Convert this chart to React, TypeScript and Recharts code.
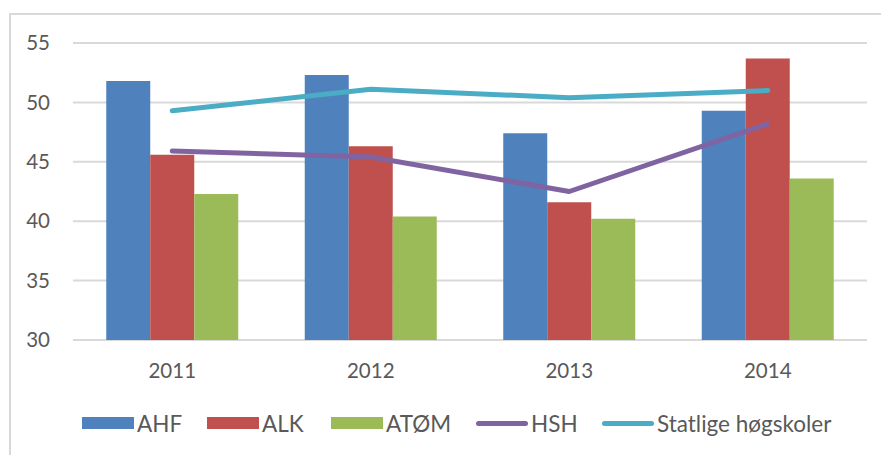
import * as React from "react";
import {
  Bar,
  CartesianGrid,
  ComposedChart,
  Legend,
  Line,
  XAxis,
  YAxis,
} from "recharts";

const years = ["2011", "2012", "2013", "2014"];
const ahf = [51.8, 52.3, 47.4, 49.3];
const alk = [45.6, 46.3, 41.6, 53.7];
const atom = [42.3, 40.4, 40.2, 43.6];
const hsh = [45.9, 45.4, 42.5, 48.2];
const statlige = [49.3, 51.1, 50.4, 51.0];
const yTicks = [30, 35, 40, 45, 50, 55];

const data = years.map((year, i) => ({
  year,
  AHF: ahf[i],
  ALK: alk[i],
  ATOM: atom[i],
  HSH: hsh[i],
  Statlige: statlige[i],
}));

const FONT = "Lato, 'Open Sans', sans-serif";
const TEXT = "#595959";

const legendItems = [
  { label: "AHF", color: "#4f81bd", kind: "bar", left: 82 },
  { label: "ALK", color: "#c0504d", kind: "bar", left: 207 },
  { label: "ATØM", color: "#9bbb59", kind: "bar", left: 331 },
  { label: "HSH", color: "#8064a2", kind: "line", left: 476 },
  { label: "Statlige høgskoler", color: "#4bacc6", kind: "line", left: 602 },
];

function ChartLegend() {
  return (
    <div
      style={{
        position: "relative",
        height: 30,
        fontFamily: FONT,
        fontSize: 22.5,
        color: TEXT,
      }}
    >
      {legendItems.map((item) => (
        <div
          key={item.label}
          style={{
            position: "absolute",
            left: item.left,
            top: 0,
            height: 30,
            display: "flex",
            alignItems: "center",
            whiteSpace: "nowrap",
          }}
        >
          <span
            style={{
              display: "inline-block",
              width: 52,
              height: item.kind === "bar" ? 12 : 5,
              borderRadius: item.kind === "bar" ? 0 : 3,
              background: item.color,
              marginRight: 3,
            }}
          />
          <span>{item.label}</span>
        </div>
      ))}
    </div>
  );
}

export default function App() {
  return (
    <div
      style={{
        position: "absolute",
        left: 0,
        top: 0,
        width: 881,
        height: 455,
        overflow: "hidden",
        background: "#fff",
      }}
    >
      <div
        style={{
          position: "absolute",
          left: 9,
          top: 13,
          width: 900,
          height: 500,
          border: "2px solid #d9d9d9",
        }}
      />
      <ComposedChart
        width={881}
        height={455}
        data={data}
        margin={{ top: 43, right: 14, bottom: 0, left: 23 }}
        barCategoryGap="16.75%"
        barGap={0}
        style={{ position: "absolute", left: 0, top: 0 }}
      >
        <CartesianGrid vertical={false} stroke="#d9d9d9" strokeWidth={2} />
        <XAxis
          dataKey="year"
          height={85}
          axisLine={false}
          tickLine={false}
          tickMargin={17}
          tick={{ fill: TEXT, fontSize: 20.5, fontFamily: FONT }}
        />
        <YAxis
          width={50}
          domain={[30, 55]}
          ticks={yTicks}
          interval={0}
          allowDataOverflow
          axisLine={false}
          tickLine={false}
          tickMargin={17}
          tick={{ fill: TEXT, fontSize: 20.5, fontFamily: FONT }}
        />
        <Bar dataKey="AHF" fill="#4f81bd" isAnimationActive={false} />
        <Bar dataKey="ALK" fill="#c0504d" isAnimationActive={false} />
        <Bar dataKey="ATOM" name="ATØM" fill="#9bbb59" isAnimationActive={false} />
        <Line
          dataKey="HSH"
          stroke="#8064a2"
          strokeWidth={5}
          strokeLinecap="round"
          strokeLinejoin="round"
          dot={false}
          activeDot={false}
          isAnimationActive={false}
        />
        <Line
          dataKey="Statlige"
          name="Statlige høgskoler"
          stroke="#4bacc6"
          strokeWidth={5}
          strokeLinecap="round"
          strokeLinejoin="round"
          dot={false}
          activeDot={false}
          isAnimationActive={false}
        />
        <Legend
          verticalAlign="bottom"
          content={() => <ChartLegend />}
          wrapperStyle={{ bottom: 17, left: 0, width: 881 }}
        />
      </ComposedChart>
    </div>
  );
}
